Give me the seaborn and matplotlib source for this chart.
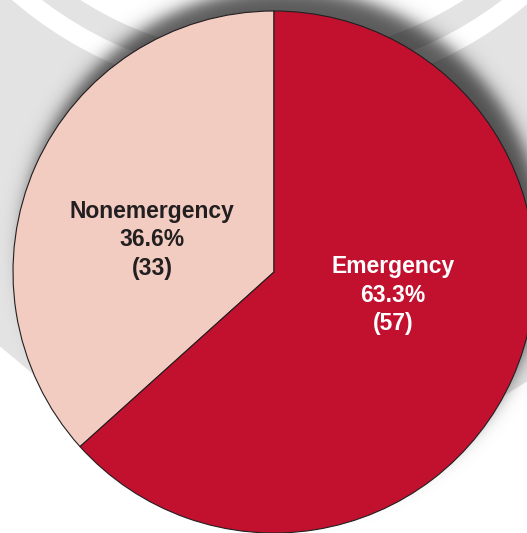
import numpy as np
import matplotlib
matplotlib.use('Agg')
import matplotlib.pyplot as plt
from matplotlib.patches import Circle, Polygon
import seaborn as sns

# data
categories = ['Nonemergency', 'Emergency']
counts = [33, 57]
pct_labels = ['36.6%', '63.3%']
colors = ['#F2CCC1', '#C2102F']
text_colors = ['#231F20', '#FFFFFF']

sns.set_theme(style='white')
plt.rcParams['font.family'] = ['Liberation Sans', 'DejaVu Sans']

W, H = 527, 533
fig = plt.figure(figsize=(W / 100, H / 100), dpi=100)
ax = fig.add_axes([0, 0, 1, 1])

# pixel coords -> axes coords (y up)
def py(y):
    return H - y

# faint watermark in the background
gray = '#E3E3E3'
ax.add_patch(Polygon([(-10, py(-10)), (W + 10, py(-10)), (W + 10, py(375)),
                      (450, py(430)), (100, py(430)), (-10, py(338))],
                     closed=True, fc=gray, ec='none', zorder=0))
wm_c = (272, py(-300))
for r, c in [(397, 'white'), (378, gray), (356, 'white')]:
    ax.add_patch(Circle(wm_c, r, fc=c, ec='none', zorder=0.1))

# pie geometry
cx, cy, R = 274, 272, 261

# soft drop shadow towards lower right
yy, xx = np.mgrid[0:H, 0:W]
d = np.hypot(xx - (cx + 9), yy - (cy + 11))
alpha = 0.65 / (1 + np.exp((d - R) / 5.0))
shadow = np.zeros((H, W, 4))
shadow[..., 3] = alpha
ax.imshow(shadow, extent=(0, W, H, 0), origin='upper', zorder=0.5,
          interpolation='bilinear')

wedges, _ = ax.pie(counts, colors=colors, startangle=90, counterclock=True,
                   center=(cx, py(cy)), radius=R, frame=True,
                   wedgeprops=dict(edgecolor='#231F20', linewidth=0.8))
for w in wedges:
    w.set_zorder(2)
ax.set_xlim(0, W)
ax.set_ylim(0, H)
ax.set_aspect('auto')
ax.axis('off')

label_pos = [(152, 240), (393, 295)]
for name, pct, n, (tx, ty), tc in zip(categories, pct_labels, counts, label_pos, text_colors):
    ax.text(tx, py(ty), '{}\n{}\n({})'.format(name, pct, n), ha='center', va='center',
            fontsize=16.5, fontweight='bold', color=tc, linespacing=1.33, zorder=3)

fig.savefig('out.png', dpi=100)
